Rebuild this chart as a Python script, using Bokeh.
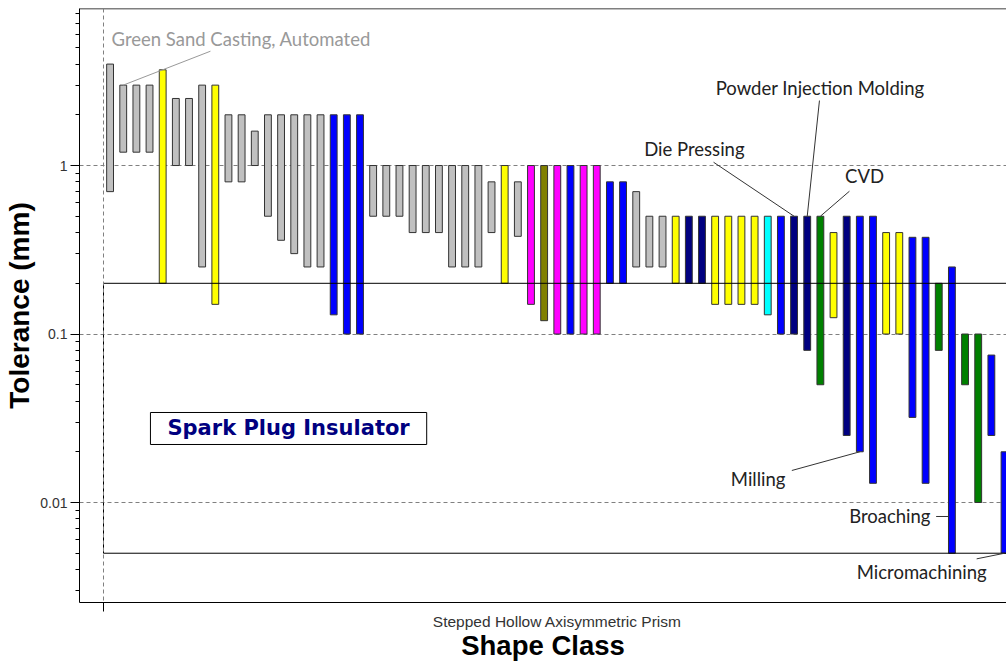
from bokeh.plotting import figure
from bokeh.models import (Range1d, FixedTicker, CustomJSTickFormatter, Span, Label,
                          ColumnDataSource)
from bokeh.embed import file_html
from bokeh.resources import INLINE

# ---------------- data ----------------
shape_class = "Stepped Hollow Axisymmetric Prism"
component = "Spark Plug Insulator"

# process family of each bar (colour code)
process_class = ["G", "G", "G", "G", "Y", "G", "G", "G", "Y", "G",
                 "G", "G", "G", "G", "G", "G", "G", "B", "B", "B",
                 "G", "G", "G", "G", "G", "G", "G", "G", "G", "G",
                 "Y", "G", "M", "O", "M", "B", "M", "M", "B", "B",
                 "G", "G", "G", "Y", "N", "N", "Y", "Y", "Y", "Y",
                 "C", "B", "N", "N", "E", "Y", "N", "B", "B", "Y",
                 "Y", "B", "B", "E", "B", "E", "E", "B", "B"]

tol_high = [4.0, 3.0, 3.0, 3.0, 3.7, 2.5, 2.5, 3.0, 3.0, 2.0,
            2.0, 1.6, 2.0, 2.0, 2.0, 2.0, 2.0, 2.0, 2.0, 2.0,
            1.0, 1.0, 1.0, 1.0, 1.0, 1.0, 1.0, 1.0, 1.0, 0.8,
            1.0, 0.8, 1.0, 1.0, 1.0, 1.0, 1.0, 1.0, 0.8, 0.8,
            0.7, 0.5, 0.5, 0.5, 0.5, 0.5, 0.5, 0.5, 0.5, 0.5,
            0.5, 0.5, 0.5, 0.5, 0.5, 0.4, 0.5, 0.5, 0.5, 0.4,
            0.4, 0.375, 0.375, 0.2, 0.25, 0.1, 0.1, 0.075, 0.02]

tol_low = [0.7, 1.2, 1.2, 1.2, 0.2, 1.0, 1.0, 0.25, 0.15, 0.8,
           0.8, 1.0, 0.5, 0.36, 0.3, 0.25, 0.25, 0.13, 0.1, 0.1,
           0.5, 0.5, 0.5, 0.4, 0.4, 0.4, 0.25, 0.25, 0.25, 0.4,
           0.2, 0.38, 0.15, 0.12, 0.1, 0.1, 0.1, 0.1, 0.2, 0.2,
           0.25, 0.25, 0.25, 0.2, 0.2, 0.2, 0.15, 0.15, 0.15, 0.15,
           0.13, 0.1, 0.1, 0.08, 0.05, 0.125, 0.025, 0.02, 0.013, 0.1,
           0.1, 0.032, 0.013, 0.08, 0.005, 0.05, 0.01, 0.025, 0.005]

spec_low = 0.005
spec_high = 0.2

y_major = [0.01, 0.1, 1]

ann_labels = ["Green Sand Casting, Automated", "Powder Injection Molding",
              "Die Pressing", "CVD", "Milling", "Broaching", "Micromachining"]
ann_bar = [1, 53, 52, 54, 57, 64, 68]
ann_end = ["high", "high", "high", "high", "low", "side", "low"]

# ---------------- layout / style ----------------
palette = {"G": "#C0C0C0", "Y": "#FFFF00", "B": "#0000FF", "N": "#000080",
           "M": "#FF00FF", "O": "#808000", "E": "#008000", "C": "#00FFFF"}
# label position (x, y), alignment, colour, leader start (x, y)
ann_layout = [
    ((0.61, 5.67), "left", "#999999", (8.13, 4.77)),
    ((54.48, 2.90), "center", "#222222", (54.43, 2.43)),
    ((44.92, 1.256), "center", "#222222", (46.38, 1.046)),
    ((57.86, 0.872), "center", "#222222", (56.71, 0.704)),
    ((49.77, 0.01382), "center", "#222222", (52.33, 0.01549)),
    ((59.78, 0.00826), "center", "#222222", (63.3, 0.00826)),
    ((62.2, 0.003858), "center", "#222222", (66.38, 0.00463)),
]
bar_width = 0.52
n = len(tol_high)
x_pos = [i + 0.5 for i in range(n)]
y_start, y_end = 0.00255, 8.55

src = ColumnDataSource(dict(x=x_pos, top=tol_high, bottom=tol_low,
                            color=[palette[c] for c in process_class]))

p = figure(width=1006, height=664, x_range=Range1d(-1.825, 68.65),
           y_range=Range1d(y_start, y_end), y_axis_type="log",
           output_backend="svg", toolbar_location=None,
           min_border_left=79, min_border_right=0, min_border_top=8,
           min_border_bottom=62, outline_line_color=None,
           background_fill_color="white", border_fill_color="white")

# frame top border
p.add_layout(Span(location=y_end, dimension="width", line_color="black",
                  line_width=1.5))

# grid
p.xgrid.visible = False
p.ygrid.ticker = FixedTicker(ticks=y_major)
p.ygrid.grid_line_color = "#808080"
p.ygrid.grid_line_dash = "4 3"
p.add_layout(Span(location=0, dimension="height", line_color="#808080",
                  line_dash="4 3", line_width=1))

# y axis
minor_y = [m * 10.0 ** e for e in (-3, -2, -1, 0) for m in range(2, 10)]
minor_y = [v for v in minor_y if y_start < v < y_end]
yax = p.yaxis[0]
yax.ticker = FixedTicker(ticks=y_major, minor_ticks=minor_y)
yax.formatter = CustomJSTickFormatter(code="return tick.toString();")
yax.major_tick_out = 9
yax.major_tick_in = 0
yax.minor_tick_out = 4
yax.minor_tick_in = 0
yax.major_label_standoff = 3
yax.major_label_text_font = "Liberation Sans"
yax.major_label_text_font_size = "14px"
yax.major_label_text_color = "#333333"
yax.axis_label = "Tolerance (mm)"
yax.axis_label_text_font = "Liberation Sans"
yax.axis_label_text_font_style = "bold"
yax.axis_label_text_font_size = "28px"
yax.axis_label_text_color = "black"
yax.axis_label_standoff = 2
yax.axis_line_color = "black"
yax.major_tick_line_color = "black"
yax.minor_tick_line_color = "black"

# x axis
xax = p.xaxis[0]
xax.ticker = FixedTicker(ticks=[34.5], minor_ticks=[0])
xax.formatter = CustomJSTickFormatter(args=dict(lbl=shape_class), code="return lbl;")
xax.major_tick_out = 9
xax.major_tick_in = 0
xax.major_tick_line_color = None
xax.minor_tick_out = 9
xax.minor_tick_in = 0
xax.minor_tick_line_color = "black"
xax.major_label_standoff = 1
xax.major_label_text_font = "Liberation Sans"
xax.major_label_text_font_size = "15.5px"
xax.major_label_text_color = "#333333"
xax.axis_label = "Shape Class"
xax.axis_label_text_font = "Liberation Sans"
xax.axis_label_text_font_style = "bold"
xax.axis_label_text_font_size = "27.5px"
xax.axis_label_text_color = "black"
xax.axis_label_standoff = -3
xax.axis_line_color = "black"

# bars
p.vbar(x="x", top="top", bottom="bottom", width=bar_width, source=src,
       fill_color="color", line_color="#333333", line_width=1)

# spec window
p.quad(left=[0], right=[80], bottom=[spec_low], top=[spec_high],
       fill_color=None, line_color="black", line_width=1)

# leader lines
x0, y0, x1, y1 = [], [], [], []
for (pos, align, col, start), b, end in zip(ann_layout, ann_bar, ann_end):
    x0.append(start[0]); y0.append(start[1])
    if end == "high":
        x1.append(x_pos[b]); y1.append(tol_high[b])
    elif end == "low":
        x1.append(x_pos[b]); y1.append(tol_low[b])
    else:
        x1.append(x_pos[b] - bar_width / 2); y1.append(start[1])
lcol = [a[2] if a[2] != "#222222" else "#333333" for a in ann_layout]
p.segment(x0=x0, y0=y0, x1=x1, y1=y1, line_color=lcol, line_width=1)

for txt, (pos, align, col, start) in zip(ann_labels, ann_layout):
    p.add_layout(Label(x=pos[0], y=pos[1], text=txt, text_align=align,
                       text_baseline="middle", text_font="Lato",
                       text_font_size="18.5px", text_color=col))

p.add_layout(Label(x=14.07, y=0.0275, text=component, text_align="center",
                   text_baseline="middle", text_font="DejaVu Sans",
                   text_font_style="bold", text_font_size="21px",
                   text_color="#000080", border_line_color="black",
                   border_line_width=1, background_fill_color="white",
                   padding=(17, 4)))

open("out.html", "w").write(file_html(p, INLINE))
